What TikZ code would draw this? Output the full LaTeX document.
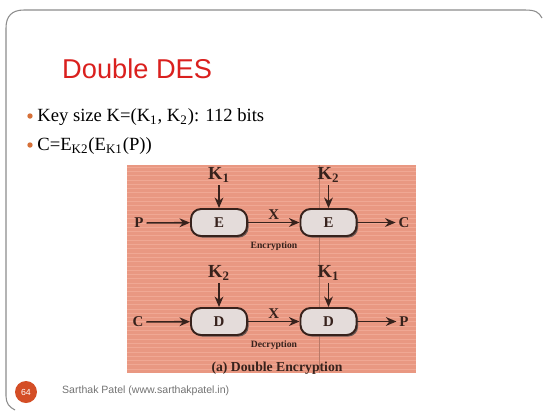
\documentclass[tikz,border=0pt]{standalone}
\usepackage{fontspec}
\setmainfont{Liberation Serif}
\newfontfamily\slidesans{Liberation Sans}
\usepackage{xcolor}
\usetikzlibrary{arrows.meta,shadows}
\definecolor{salmon}{RGB}{233,152,130}
\definecolor{stripe}{RGB}{240,168,148}
\definecolor{inkbrown}{RGB}{55,34,28}
\definecolor{boxgrey}{RGB}{228,220,218}
\definecolor{titlered}{RGB}{218,32,30}
\definecolor{dotorange}{RGB}{214,112,56}
\definecolor{badge}{RGB}{212,78,38}
\tikzset{
  every picture/.style={line join=round, >=Stealth},
  frame/.style={draw=black!45, line width=0.6pt},
  desbox/.style={draw=inkbrown, line width=1.1pt, fill=boxgrey, rounded corners=0.2cm,
    minimum width=1.12cm, minimum height=0.54cm, inner sep=0pt,
    font=\fontsize{8.5}{10}\selectfont\bfseries, text=inkbrown,
    drop shadow={shadow xshift=0.9pt, shadow yshift=-0.9pt, fill=inkbrown!75, opacity=1}},
  lbl/.style={font=\fontsize{8.5}{10}\selectfont\bfseries, text=inkbrown, inner sep=1.5pt},
  key/.style={font=\fontsize{10.5}{12}\selectfont\bfseries, text=inkbrown, inner sep=1.5pt},
  flow/.style={draw=inkbrown, line width=0.9pt, -{Stealth[length=6pt,width=5pt]}},
}

\begin{document}
\begin{tikzpicture}[x=0.02cm,y=-0.02cm]
\useasboundingbox[fill=white](0,0)rectangle(543,410);
% slide frame
\draw[frame](542,18)..controls(539,12)and(535,10)..(525,10)--(24,10)
  ..controls(12,10)and(6,16)..(6,28)--(6,396)..controls(6,403)and(9,407)..(15,410);
% title and bullets
\node[anchor=west,text=titlered,font=\slidesans\fontsize{15.5}{18}\selectfont](title)at(56,69){Double DES};
\fill[dotorange](30,116)circle(2.7);
\fill[dotorange](30,145)circle(2.7);
\node[anchor=west,inner sep=0pt,font=\fontsize{10.6}{12}\selectfont](keysize)at(37,117)
  {Key size K=(K\textsubscript{1}, K\textsubscript{2}): 112 bits};
\node[anchor=west,inner sep=0pt,font=\fontsize{10.6}{12}\selectfont](cipher)at(37,146)
  {C=E\textsubscript{K2}(E\textsubscript{K1}(P))};
% figure background
\fill[salmon](127,165)rectangle(416,373);
\foreach \y in {167,171.3,...,372}
  \draw[stripe,line width=0.45pt](127,\y)--(416,\y);
\draw[salmon!80!black,line width=0.4pt](319,165)--(319,373);
% encryption row
\node[desbox](e1)at(219,222.5){E};
\node[desbox](e2)at(328.5,222.5){E};
\node[lbl](p1)at(139,223){P};
\node[lbl](c1)at(404,223){C};
\node[key](k1)at(219,175){K\textsubscript{1}};
\node[key](k2)at(328.5,175){K\textsubscript{2}};
\draw[flow](p1)--(e1);
\draw[flow](e1)--node[lbl,above]{X}(e2);
\draw[flow](e2.east)--(e2.east-|c1.west);
\draw[flow](k1)--(e1);
\draw[flow](k2)--(e2);
\node[text=inkbrown,font=\fontsize{5.5}{6}\selectfont\bfseries](enc)at(274,246){Encryption};
% decryption row
\node[desbox](d1)at(219,321.5){D};
\node[desbox](d2)at(328.5,321.5){D};
\node[lbl](c2)at(138,322){C};
\node[lbl](p2)at(404,322){P};
\node[key](k3)at(219,273){K\textsubscript{2}};
\node[key](k4)at(328.5,273){K\textsubscript{1}};
\draw[flow](c2)--(d1);
\draw[flow](d1)--node[lbl,above]{X}(d2);
\draw[flow](d2.east)--(d2.east-|p2.west);
\draw[flow](k3)--(d1);
\draw[flow](k4)--(d2);
\node[text=inkbrown,font=\fontsize{5.5}{6}\selectfont\bfseries](dec)at(274,345){Decryption};
\node[text=inkbrown,font=\fontsize{7.8}{9}\selectfont\bfseries](caption)at(277,368){(a) Double Encryption};
% footer
\node[circle,fill=badge,minimum size=0.44cm,inner sep=0pt,text=white,font=\slidesans\fontsize{5}{6}\selectfont](page)at(26,392){64};
\node[anchor=west,text=black!55,font=\slidesans\fontsize{6}{7}\selectfont](author)at(56,391)
  {Sarthak Patel (www.sarthakpatel.in)};
\end{tikzpicture}
\end{document}
